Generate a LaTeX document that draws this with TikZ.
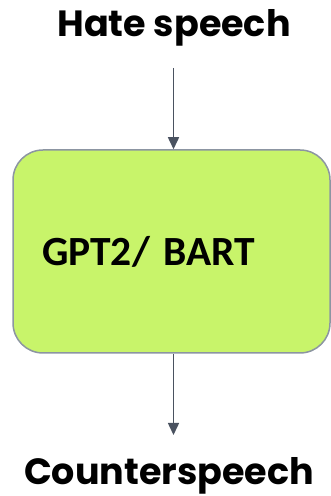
\documentclass[tikz,border=0pt]{standalone}
\usepackage{fontspec}
\setmainfont{Poppins}
\newfontfamily\boxfont{Carlito}
\usetikzlibrary{arrows.meta}
\definecolor{modelgreen}{HTML}{C8F46A}
\definecolor{modeledge}{HTML}{8C95A2}
\definecolor{arrowgray}{HTML}{4A5260}
\tikzset{
	textstyle/.style={font=\fontsize{36.5}{40}\selectfont\bfseries,inner sep=0pt},
	modelstyle/.style={rectangle,rounded corners=30pt,draw=modeledge,line width=1.5pt,fill=modelgreen,
		minimum width=317pt,minimum height=203pt,inner xsep=29pt,text width=259pt,align=left,
		font=\boxfont\fontsize{41.5}{44}\selectfont\bfseries},
	flowstyle/.style={draw=arrowgray,line width=1.5pt,-{Triangle[length=12pt,width=11pt]}}
}
\begin{document}
\begin{tikzpicture}[x=1pt,y=1pt]
		\useasboundingbox (0,0) rectangle (331,496);
		\node[textstyle,anchor=base] (hate) at (174,459) {Hate speech};
		\node[modelstyle] (model) at (171.5,244.5) {GPT2/ BART};
		\node[textstyle,anchor=base] (counter) at (169,12) {Counterspeech};
		\coordinate (in) at (173.5,428);
		\coordinate (out) at (173.5,61);
		\draw[flowstyle] (in)--(in |- model.north);
		\draw[flowstyle] (out |- model.south)--(out);
\end{tikzpicture}
\end{document}
